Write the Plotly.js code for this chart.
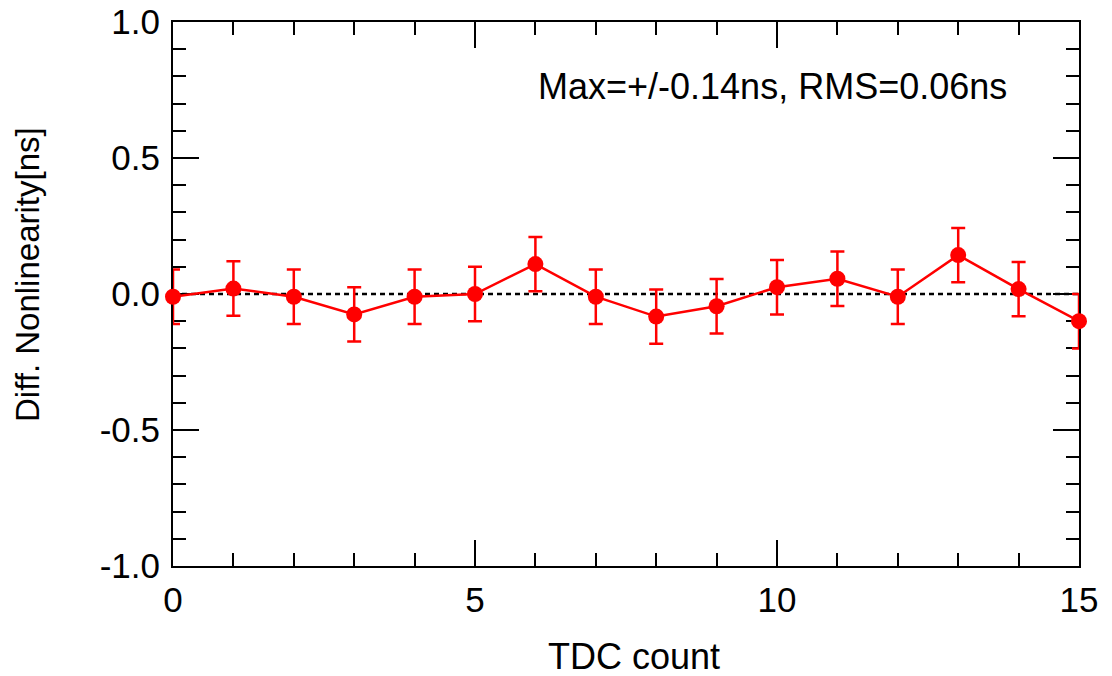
<!DOCTYPE html>
<html>
<head>
<meta charset="utf-8">
<script src="https://cdn.plot.ly/plotly-3.0.1.min.js"></script>
<style>html,body{margin:0;padding:0;background:#fff;}#chart{width:1112px;height:676px;}</style>
</head>
<body>
<div id="chart"></div>
<script>
const tdcCount = [0, 1, 2, 3, 4, 5, 6, 7, 8, 9, 10, 11, 12, 13, 14, 15];
const diffNonlinearity = [-0.01, 0.02, -0.01, -0.075, -0.01, 0.0, 0.11, -0.01, -0.083, -0.045, 0.025, 0.056, -0.01, 0.143, 0.018, -0.10];
const errorValues = [0.1, 0.1, 0.1, 0.1, 0.1, 0.1, 0.1, 0.1, 0.1, 0.1, 0.1, 0.1, 0.1, 0.1, 0.1, 0.1];
const xTickVals = [0, 5, 10, 15];
const xTickText = ['0', '5', '10', '15'];
const yTickVals = [-1.0, -0.5, 0.0, 0.5, 1.0];
const yTickText = ['-1.0', '-0.5', '0.0', '0.5', '1.0'];
const annotationText = 'Max=+/-0.14ns, RMS=0.06ns';
const xTitle = 'TDC count';
const yTitle = 'Diff. Nonlinearity[ns]';

const red = '#ff0000';
const fontFam = 'Liberation Sans, Arial, Helvetica, sans-serif';

const trace = {
  x: tdcCount,
  y: diffNonlinearity,
  type: 'scatter',
  mode: 'lines+markers',
  line: {color: red, width: 2.5},
  marker: {color: red, size: 16},
  error_y: {type: 'data', array: errorValues, visible: true, color: red, thickness: 2.5, width: 7},
  cliponaxis: false,
  showlegend: false
};

const axisCommon = {
  ticks: 'inside',
  ticklen: 26,
  tickwidth: 2,
  tickcolor: '#000',
  showline: true,
  linecolor: '#000',
  linewidth: 2,
  mirror: 'allticks',
  showgrid: false,
  zeroline: false,
  layer: 'below traces',
  tickfont: {size: 35, family: fontFam, color: '#000'}
};

const layout = {
  width: 1112,
  height: 676,
  margin: {l: 173, r: 33, t: 22, b: 110},
  paper_bgcolor: '#fff',
  plot_bgcolor: '#fff',
  font: {family: fontFam, color: '#000', size: 32},
  xaxis: Object.assign({}, axisCommon, {
    range: [0, 15],
    tickvals: xTickVals,
    ticktext: xTickText,
    minor: {dtick: 1, ticks: 'inside', ticklen: 13, tickwidth: 2, tickcolor: '#000', showgrid: false},
    ticklabelstandoff: 2
  }),
  yaxis: Object.assign({}, axisCommon, {
    range: [-1.0, 1.0],
    tickvals: yTickVals,
    ticktext: yTickText,
    minor: {dtick: 0.1, ticks: 'inside', ticklen: 13, tickwidth: 2, tickcolor: '#000', showgrid: false},
    ticklabelstandoff: 4
  }),
  shapes: [{
    type: 'line', xref: 'x', yref: 'y', x0: 0, x1: 15, y0: 0, y1: 0,
    line: {color: '#000', width: 2.5, dash: '5px,4px'},
    layer: 'below'
  }],
  annotations: [
    {
      xref: 'paper', yref: 'paper', x: (1009 - 173) / 906, y: (566 - 86) / 544,
      xanchor: 'right', yanchor: 'middle',
      text: annotationText, showarrow: false,
      font: {size: 36, family: fontFam, color: '#000'}
    },
    {
      xref: 'paper', yref: 'paper', x: (634 - 626) / 906 + 0.5, y: (566 - 656) / 544,
      xanchor: 'center', yanchor: 'middle',
      text: xTitle, showarrow: false,
      font: {size: 36, family: fontFam, color: '#000'}
    },
    {
      xref: 'paper', yref: 'paper', x: (27 - 173) / 906, y: (566 - 275) / 544,
      xanchor: 'center', yanchor: 'middle', textangle: -90,
      text: yTitle, showarrow: false,
      font: {size: 33, family: fontFam, color: '#000'}
    }
  ]
};

Plotly.newPlot('chart', [trace], layout, {displayModeBar: false, staticPlot: true});
</script>
</body>
</html>
